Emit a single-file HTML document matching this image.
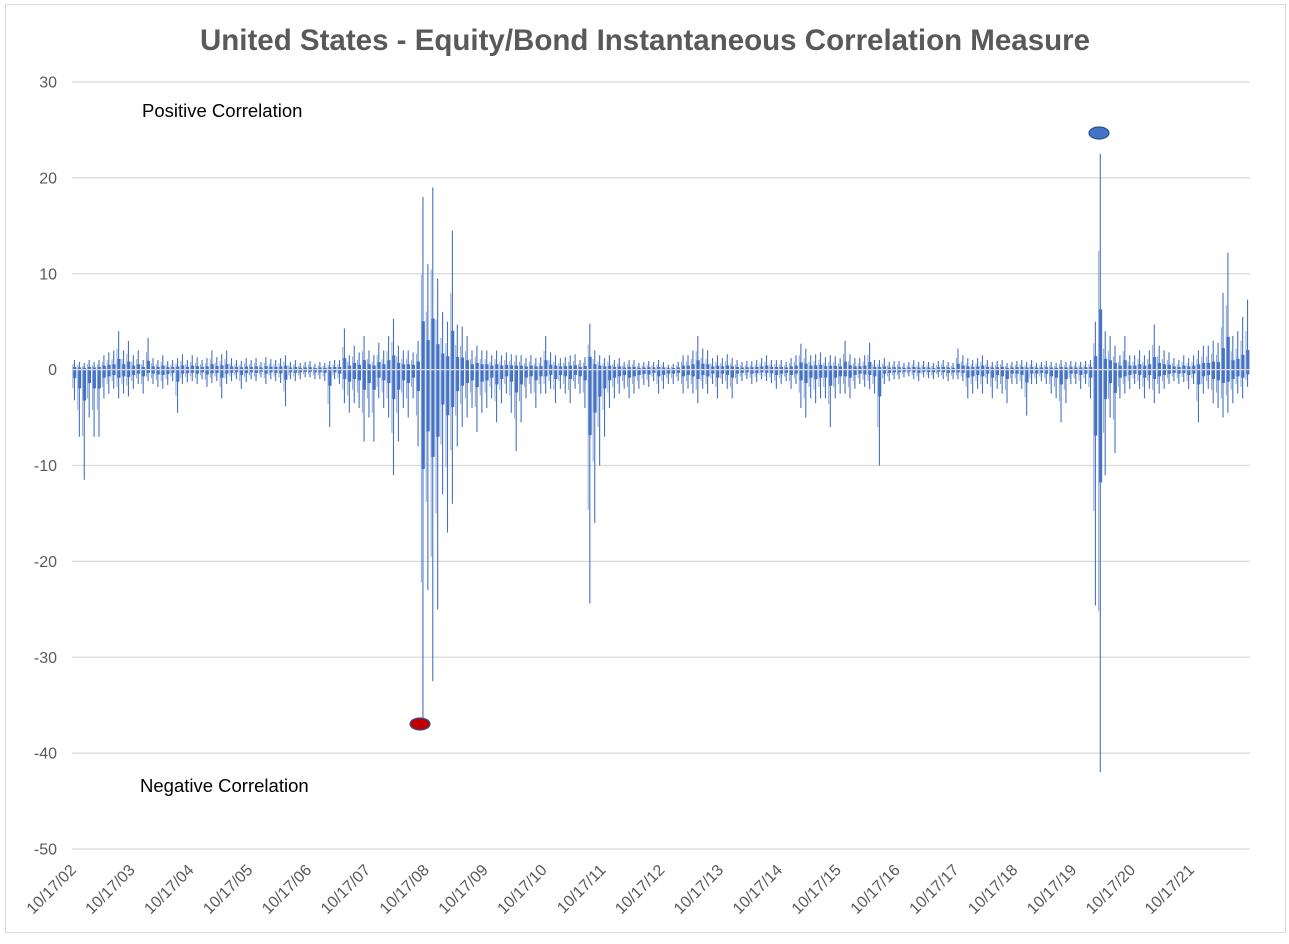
<!DOCTYPE html>
<html><head><meta charset="utf-8"><style>
body{margin:0;background:#fff;}
svg text{font-family:"Liberation Sans",sans-serif;}
</style></head><body>
<svg id="chart" width="1289" height="939" xmlns="http://www.w3.org/2000/svg">
<rect x="5.5" y="4.5" width="1280" height="928" fill="#fff" stroke="#d9d9d9"/>
<text x="645" y="50" text-anchor="middle" font-size="29.5" font-weight="bold" fill="#595959">United States - Equity/Bond Instantaneous Correlation Measure</text>
<g id="grid"></g><g id="bars"></g><g id="xlabels"></g>
<text x="142" y="117" font-size="18.5" fill="#000">Positive Correlation</text>
<text x="140" y="792" font-size="18.5" fill="#000">Negative Correlation</text>
<ellipse cx="1099" cy="133" rx="10" ry="6" fill="#4472c4" stroke="#2f528f" stroke-width="1.2"/>
<ellipse cx="420" cy="724" rx="10" ry="6" fill="#c00000" stroke="#2f528f" stroke-width="1.2"/>
</svg>
<script>
const yTicks=[30,20,10,0,-10,-20,-30,-40,-50];
const xTickLabels=["10/17/02","10/17/03","10/17/04","10/17/05","10/17/06","10/17/07","10/17/08","10/17/09","10/17/10","10/17/11","10/17/12","10/17/13","10/17/14","10/17/15","10/17/16","10/17/17","10/17/18","10/17/19","10/17/20","10/17/21"];
const monthlyHigh=[
1,0.8,0.7,1,0.8,1,1.5,1.8,2,4,2,3,
1.5,2,1,3.3,1.2,1,1.5,0.9,1,1.2,1.6,1,
1.5,1.3,1,1.2,2,1.3,1.6,2,1.2,1,0.9,1.2,
1,1.2,0.8,1.3,1.1,1,1.2,1.5,0.8,1,0.7,0.8,
0.9,0.6,0.8,0.7,0.9,1,1,4.3,1.5,2.5,1.8,3.5,
2,1.5,2.8,2,3.5,5.3,2.5,2,2,1.8,3,18,
11,19,9.5,6,5,14.5,4.7,4.5,3.5,2,2.5,2,
2,1.5,2,1.5,1.8,1.6,1.5,1.5,1.2,1.5,1.2,1.3,
3.5,1.8,1.5,1.2,1.3,1.5,1.6,1,1.3,4.8,2,1.5,
1.2,1.5,1,1.2,0.8,1,1,0.7,0.8,0.9,0.8,1,
0.8,0.5,0.6,0.8,1.5,1.5,2,3.5,2.2,2,1.2,1.5,
1.2,1.6,1.2,1,0.8,0.9,0.9,1,1.2,1.5,1,1,
1,0.8,1.2,1.5,2.7,2.2,1.5,1.6,1.8,1.3,1.5,1.4,
1.2,3,1.6,1.2,1.2,1.5,2.8,1,1,1.2,0.8,0.9,
0.9,0.7,0.8,1,0.8,0.9,0.8,0.7,0.9,1,0.8,0.7,
2.2,1.5,1.2,1,1.2,1.5,1,0.8,0.9,1,0.7,0.8,
0.9,1,0.8,1,0.7,0.8,0.9,0.8,0.7,1,0.8,0.9,
0.8,0.8,0.9,1,5,22.5,4,3.5,2.5,1.5,3.5,1.5,
1.5,2,1.5,2,4.7,2.5,2,1.8,1.2,1,1.5,1.2,
1.5,2,2.5,2.5,3,2.8,8,12.2,3.5,4,5.5,7.3];
const monthlyLow=[
-3.2,-7,-11.5,-5,-7,-7,-3,-2.5,-2,-3,-2.5,-2.8,
-2,-1.5,-2.5,-1.2,-1.5,-1.8,-2,-1.6,-1.2,-4.5,-1.5,-1.3,
-1.2,-1.5,-1,-1.8,-1.4,-1.2,-3,-1.5,-1.2,-1,-2,-1.3,
-1,-1.2,-0.8,-1.5,-1,-1.2,-1.4,-3.8,-1,-1.2,-1,-0.8,
-0.8,-1,-1,-1.2,-6,-1,-1.5,-3.5,-4.5,-3.5,-4,-7.5,
-5,-7.5,-3,-4,-5,-11,-7.5,-4,-5,-3,-8,-37,
-23,-32.5,-25,-13,-17,-14,-8,-6,-5,-4,-6.5,-4.5,
-4,-3,-5.5,-3.5,-2.5,-4.5,-8.5,-5.5,-3,-2.5,-4,-2.5,
-2.5,-2,-3.5,-2,-2.5,-3.5,-2,-2.5,-4,-24.4,-16,-10,
-7,-4,-3,-2.5,-2,-3,-2.5,-2,-1.6,-1.8,-1.2,-2.5,
-2,-1.5,-1.5,-1.2,-2.5,-2,-2.5,-3.5,-2,-2.5,-1.5,-3,
-1.5,-2,-3,-1.5,-1.2,-1,-1.5,-1.3,-1,-1.2,-1.4,-2,
-1.5,-1.2,-2,-1.5,-4,-5,-3,-3.5,-3,-3,-6,-3,
-2.5,-2.5,-3,-2,-1.5,-1.8,-2,-2.5,-10,-1.5,-1.2,-1,
-1,-0.8,-0.7,-1,-1.2,-0.8,-0.9,-1,-0.8,-1,-1.2,-1,
-1,-1.2,-3,-2.5,-2,-2.5,-1.5,-3,-2,-2.5,-3.5,-1.5,
-1.5,-2,-4.8,-1.5,-1.5,-1.2,-1.5,-2.5,-3,-5.5,-3.5,-1.5,
-1.5,-2,-1.5,-3,-24.6,-42,-11,-5,-8.7,-3,-2.5,-2,
-1.5,-2,-3,-2,-3.5,-2.5,-2,-1.5,-1.2,-1.5,-1.3,-2,
-1.5,-5.5,-2.5,-2,-3.5,-4,-5,-4.5,-3.5,-2.5,-3,-1.8];

const NS='http://www.w3.org/2000/svg';
const X0=72,X1=1250,Y_TOP=82,Y_BOT=849,VMAX=30,VMIN=-50;
function yS(v){return Y_TOP+(VMAX-v)/(VMAX-VMIN)*(Y_BOT-Y_TOP);}
const binW=(X1-X0)/monthlyHigh.length;
function xS(i){return X0+binW*(i+0.5);}
function mk(tag,attrs,parent){const e=document.createElementNS(NS,tag);for(const k in attrs)e.setAttribute(k,attrs[k]);parent.appendChild(e);return e;}
const grid=document.getElementById('grid');
yTicks.forEach(t=>{
  const l=mk('line',{x1:X0,x2:X1,y1:yS(t),y2:yS(t),stroke:'#d9d9d9','stroke-width':1.3},grid);
  
  
  const tx=mk('text',{x:57,y:yS(t)+5.5,'text-anchor':'end','font-size':16,fill:'#595959'},grid);
  tx.textContent=t;
  
  
});
const bars=document.getElementById('bars');
const y0=yS(0);
monthlyHigh.forEach((h,i)=>{
  const lo=monthlyLow[i];const cx=xS(i);
  const band=mk('rect',{x:cx-binW/2+0.6,y:yS(h*0.28),width:binW-1.2,height:yS(lo*0.28)-yS(h*0.28),fill:'#4472c4'},bars);
  
  
  const ln=mk('line',{x1:cx,x2:cx,y1:yS(h),y2:yS(lo),stroke:'#4472c4','stroke-width':1.1},bars);
  
  
  const l2=mk('line',{x1:cx-1.6,x2:cx-1.6,y1:yS(h*0.55),y2:yS(lo*0.6),stroke:'#8fa8da','stroke-width':1},bars);
  
  
});
const zl=mk('line',{x1:X0,x2:X1,y1:y0,y2:y0,stroke:'#d9d9d9','stroke-width':1.2},bars);


const xl=document.getElementById('xlabels');
xTickLabels.forEach((s,k)=>{
  const x=77+k*58.85,y=871;
  const t=mk('text',{x:x,y:y,'text-anchor':'end','font-size':16,fill:'#595959',transform:`rotate(-45 ${x} ${y})`},xl);
  t.textContent=s;
  
  
});
</script>
</body></html>
